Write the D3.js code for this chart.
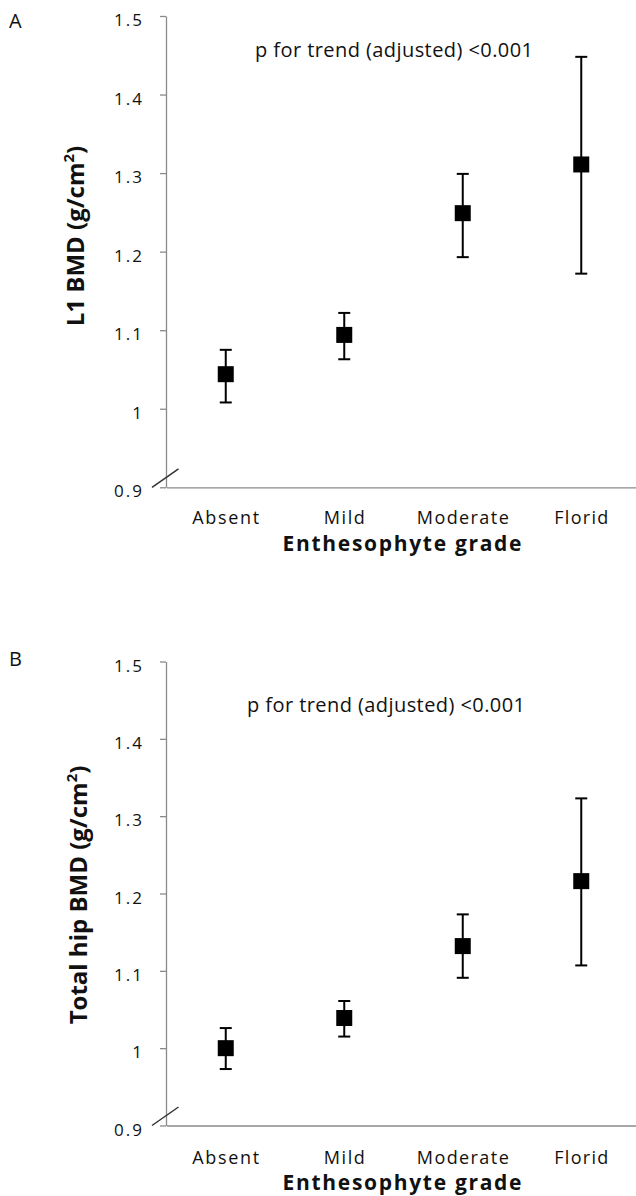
<!DOCTYPE html>
<html>
<head>
<meta charset="utf-8">
<script src="https://cdn.jsdelivr.net/npm/d3@7"></script>
<style>
  html, body { margin: 0; padding: 0; background: #fff; }
  svg { display: block; }
  text { font-family: "Open Sans", "Noto Sans", sans-serif; fill: #111; }
</style>
</head>
<body>
<svg id="chart" width="636" height="1196"></svg>
<script>
// ---- data ----
const categories = ["Absent", "Mild", "Moderate", "Florid"];
const l1Mean  = [1.044, 1.094, 1.249, 1.311];
const l1Lower = [1.008, 1.063, 1.193, 1.172];
const l1Upper = [1.075, 1.122, 1.299, 1.448];
const hipMean  = [1.000, 1.039, 1.132, 1.216];
const hipLower = [0.973, 1.015, 1.091, 1.107];
const hipUpper = [1.026, 1.061, 1.173, 1.323];
const yTicks = [0.9, 1.0, 1.1, 1.2, 1.3, 1.4, 1.5];
const yTickLabels = ["0.9", "1", "1.1", "1.2", "1.3", "1.4", "1.5"];
const xTitle = "Enthesophyte grade";
const trendText = "p for trend (adjusted) <0.001";

const svg = d3.select("#chart");

function drawPanel(cfg) {
  const g = svg.append("g");
  const x = d3.scaleBand().domain(categories).range([166.5, 640.5]).padding(0);
  const y = d3.scaleLinear().domain([0.9, 1.5]).range([cfg.yBottom, cfg.yTop]);

  // y axis
  const ya = g.append("g").attr("transform", "translate(166,0)")
    .call(d3.axisLeft(y).tickValues(yTicks).tickFormat((d, i) => yTickLabels[i]).tickSize(6).tickSizeOuter(0));
  ya.select(".domain").attr("stroke", "#8a8a8a").attr("stroke-width", 1.3);
  ya.selectAll(".tick line").attr("stroke", "#8a8a8a").attr("stroke-width", 1.3);
  ya.selectAll(".tick text")
    .attr("x", -24).attr("y", 9.5).attr("dy", 0)
    .style("font-family", "'Open Sans', sans-serif")
    .style("font-size", "17px").attr("fill", "#111")
    .each(function (d, i) {
      if (yTickLabels[i].length === 3) d3.select(this).attr("textLength", 28).attr("lengthAdjust", "spacing");
    });

  // x axis
  const xa = g.append("g").attr("transform", `translate(0,${cfg.yBottom})`)
    .call(d3.axisBottom(x).tickSize(0).tickSizeOuter(0));
  xa.select(".domain").attr("stroke", "#8a8a8a").attr("stroke-width", 1.3);
  const catWidths = {Absent: 67, Mild: 41, Moderate: 92, Florid: 54};
  xa.selectAll(".tick text")
    .attr("y", cfg.catOffset).attr("dy", 0)
    .style("font-family", "'Open Sans', sans-serif")
    .style("font-size", "18px").attr("fill", "#111")
    .attr("textLength", d => catWidths[d]).attr("lengthAdjust", "spacing");

  // axis break mark
  g.append("line")
    .attr("x1", 152).attr("y1", cfg.yBottom)
    .attr("x2", 178.5).attr("y2", cfg.yBottom - 18.5)
    .attr("stroke", "#333").attr("stroke-width", 1.5);

  // x title
  g.append("text")
    .attr("x", 402).attr("y", cfg.yBottom + cfg.titleOffset)
    .attr("text-anchor", "middle")
    .style("font-size", "21px").style("font-weight", "bold")
    .attr("textLength", 239).attr("lengthAdjust", "spacing")
    .text(xTitle);

  // y title (rotated)
  const yt = g.append("text")
    .attr("transform", `translate(${cfg.yTitleX},${cfg.yTitleY}) rotate(-90)`)
    .attr("text-anchor", "middle")
    .style("font-size", "24px").style("font-weight", "bold");
  yt.append("tspan").text(cfg.yLabel + " (g/cm");
  yt.append("tspan").text("2").style("font-size", "15px").attr("dy", -10);
  yt.append("tspan").text(")").attr("dy", 10);

  // panel letter
  g.append("text").attr("x", 9).attr("y", cfg.letterY)
    .style("font-size", "20px").text(cfg.letter);

  // trend text
  g.append("text").attr("x", cfg.trendX).attr("y", cfg.trendY)
    .style("font-size", "20px")
    .attr("textLength", 278).attr("lengthAdjust", "spacing")
    .text(trendText);

  // error bars + markers
  const cx = d => x(d) + x.bandwidth() / 2;
  const pts = g.append("g");
  categories.forEach((c, i) => {
    pts.append("line")
      .attr("x1", cx(c)).attr("x2", cx(c))
      .attr("y1", y(cfg.lower[i])).attr("y2", y(cfg.upper[i]))
      .attr("stroke", "#000").attr("stroke-width", 2);
    [cfg.lower[i], cfg.upper[i]].forEach(v => {
      pts.append("line")
        .attr("x1", cx(c) - 6).attr("x2", cx(c) + 6)
        .attr("y1", y(v)).attr("y2", y(v))
        .attr("stroke", "#000").attr("stroke-width", 2);
    });
    pts.append("rect")
      .attr("x", cx(c) - 8).attr("y", y(cfg.mean[i]) - 8)
      .attr("width", 16).attr("height", 16)
      .attr("fill", "#000");
  });
}

drawPanel({
  yTop: 16, yBottom: 487.3, catOffset: 37, titleOffset: 64,
  yTitleX: 84, yTitleY: 236, yLabel: "L1 BMD",
  letter: "A", letterY: 28, trendX: 255, trendY: 57,
  mean: l1Mean, lower: l1Lower, upper: l1Upper
});
drawPanel({
  yTop: 661.5, yBottom: 1125.5, catOffset: 38, titleOffset: 64.5,
  yTitleX: 87, yTitleY: 895, yLabel: "Total hip BMD",
  letter: "B", letterY: 666, trendX: 247, trendY: 711.5,
  mean: hipMean, lower: hipLower, upper: hipUpper
});
</script>
</body>
</html>
